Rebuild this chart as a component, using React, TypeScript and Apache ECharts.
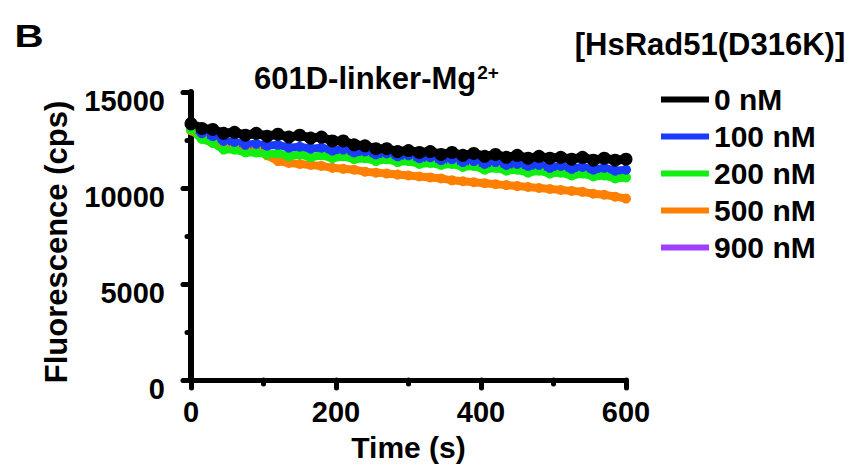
import React, { useEffect, useRef } from "react";
import * as echarts from "echarts";

const times = [0, 15, 30, 45, 60, 75, 90, 105, 120, 135, 150, 165, 180, 195, 210, 225, 240, 255, 270, 285, 300, 315, 330, 345, 360, 375, 390, 405, 420, 435, 450, 465, 480, 495, 510, 525, 540, 555, 570, 585, 600];

const nM0 = [13350, 13100, 13050, 12850, 12900, 12750, 12850, 12700, 12800, 12650, 12750, 12600, 12650, 12450, 12450, 12250, 12200, 12050, 12050, 11900, 11950, 11850, 11900, 11750, 11850, 11700, 11800, 11650, 11750, 11600, 11700, 11550, 11650, 11550, 11600, 11500, 11600, 11450, 11550, 11450, 11500];
const nM100 = [13250, 12850, 12700, 12450, 12400, 12250, 12300, 12200, 12250, 12100, 12150, 12050, 12100, 11950, 12000, 11850, 11900, 11750, 11800, 11650, 11700, 11550, 11600, 11450, 11500, 11350, 11400, 11250, 11350, 11200, 11250, 11150, 11200, 11050, 11150, 11000, 11100, 10950, 11050, 10900, 10950];
const nM200 = [13050, 12550, 12350, 12000, 12000, 11850, 11850, 11750, 11800, 11650, 11750, 11600, 11700, 11550, 11650, 11500, 11550, 11400, 11500, 11350, 11400, 11250, 11300, 11200, 11250, 11100, 11150, 10950, 11050, 10900, 10950, 10800, 10900, 10750, 10800, 10650, 10750, 10600, 10650, 10500, 10550];
const nM500 = [13000, 12650, 12350, 12150, 12100, 12100, 12050, 11700, 11400, 11300, 11250, 11200, 11150, 11050, 11000, 10950, 10850, 10800, 10750, 10700, 10650, 10600, 10550, 10500, 10400, 10350, 10300, 10250, 10200, 10150, 10100, 10050, 10000, 9950, 9900, 9850, 9800, 9700, 9650, 9550, 9450];
const nM900: number[] = [];

const seriesNames = ["0 nM", "100 nM", "200 nM", "500 nM", "900 nM"];
const seriesColors = ["#000000", "#1a3cff", "#11ee11", "#ff8000", "#a040ff"];
const seriesValues = [nM0, nM100, nM200, nM500, nM900];

const xTicks = { min: 0, max: 600, interval: 200 };
const yTicks = { min: 0, max: 15000, interval: 5000 };

const FONT = "'Liberation Sans', Arial, sans-serif";

export default function App() {
  const ref = useRef<HTMLDivElement>(null);
  useEffect(() => {
    if (!ref.current) return;
    const chart = echarts.init(ref.current, null, { renderer: "svg" });
    const series = seriesNames
      .map((name, i) => ({
        name,
        type: "line",
        data: seriesValues[i].map((v, j) => [times[j], v]),
        color: seriesColors[i],
        lineStyle: { width: i === 0 ? 9 : 8, color: seriesColors[i] },
        itemStyle: { color: seriesColors[i] },
        symbol: "circle",
        symbolSize: i === 0 ? 13 : 10,
        showSymbol: true,
        emphasis: { disabled: true },
      }))
      .reverse();
    chart.setOption({
      animation: false,
      grid: { left: 191, right: 233, top: 92, bottom: 89, containLabel: false },
      legend: {
        data: seriesNames,
        orient: "vertical",
        left: 656,
        top: 79,
        icon: "rect",
        itemWidth: 48,
        itemHeight: 6,
        itemGap: 6,
        textStyle: { fontFamily: FONT, fontWeight: "bold", fontSize: 30, color: "#000", lineHeight: 31, padding: [0, 0, 0, 0] },
      },
      xAxis: {
        type: "value",
        min: xTicks.min,
        max: xTicks.max,
        interval: xTicks.interval,
        name: "Time (s)",
        nameLocation: "middle",
        nameGap: 52,
        nameTextStyle: { fontFamily: FONT, fontWeight: "bold", fontSize: 30, color: "#000", lineHeight: 30 },
        axisLine: { show: true, lineStyle: { color: "#000", width: 5 } },
        axisTick: { show: true, length: 8, lineStyle: { color: "#000", width: 5, cap: "round" } },
        minorTick: { show: true, splitNumber: 2, length: 4, lineStyle: { color: "#000", width: 5, cap: "round" } },
        splitLine: { show: false },
        axisLabel: { margin: 17, fontFamily: FONT, fontWeight: "bold", fontSize: 29, color: "#000", lineHeight: 29 },
      },
      yAxis: {
        type: "value",
        min: yTicks.min,
        max: yTicks.max,
        interval: yTicks.interval,
        name: "Fluorescence (cps)",
        nameLocation: "middle",
        nameGap: 119,
        nameTextStyle: { fontFamily: FONT, fontWeight: "bold", fontSize: 31, color: "#000", lineHeight: 31, padding: [0, 12, 0, 0] },
        axisLine: { show: true, lineStyle: { color: "#000", width: 6 } },
        axisTick: { show: true, length: 8, lineStyle: { color: "#000", width: 5, cap: "round" } },
        minorTick: { show: true, splitNumber: 2, length: 4, lineStyle: { color: "#000", width: 5, cap: "round" } },
        splitLine: { show: false },
        axisLabel: {
          margin: 26,
          fontFamily: FONT,
          fontWeight: "bold",
          fontSize: 29,
          color: "#000",
          lineHeight: 17,
          verticalAlign: "top",
          formatter: (v: number) => String(v),
        },
      },
      graphic: [
        { type: "text", x: 29, y: 36, scaleX: 1.3, style: { text: "B", font: `bold 31px ${FONT}`, fill: "#000", align: "center", verticalAlign: "middle" } },
        { type: "text", x: 710, y: 44, style: { text: "[HsRad51(D316K)]", font: `bold 31px ${FONT}`, fill: "#000", align: "center", verticalAlign: "middle" } },
        {
          type: "text",
          x: 254,
          y: 63,
          style: {
            text: "{a|601D-linker-Mg}{b|2+}",
            fill: "#000",
            align: "left",
            verticalAlign: "top",
            rich: {
              a: { fontFamily: FONT, fontWeight: "bold", fontSize: 31, lineHeight: 31, verticalAlign: "bottom", fill: "#000", color: "#000" },
              b: { fontFamily: FONT, fontWeight: "bold", fontSize: 19, lineHeight: 19, verticalAlign: "top", fill: "#000", color: "#000", padding: [0, 0, 0, 1] },
            },
          },
        },
      ],
      series,
    });
    return () => chart.dispose();
  }, []);
  return <div ref={ref} style={{ width: 859, height: 469, position: "absolute", left: 0, top: 0 }} />;
}
